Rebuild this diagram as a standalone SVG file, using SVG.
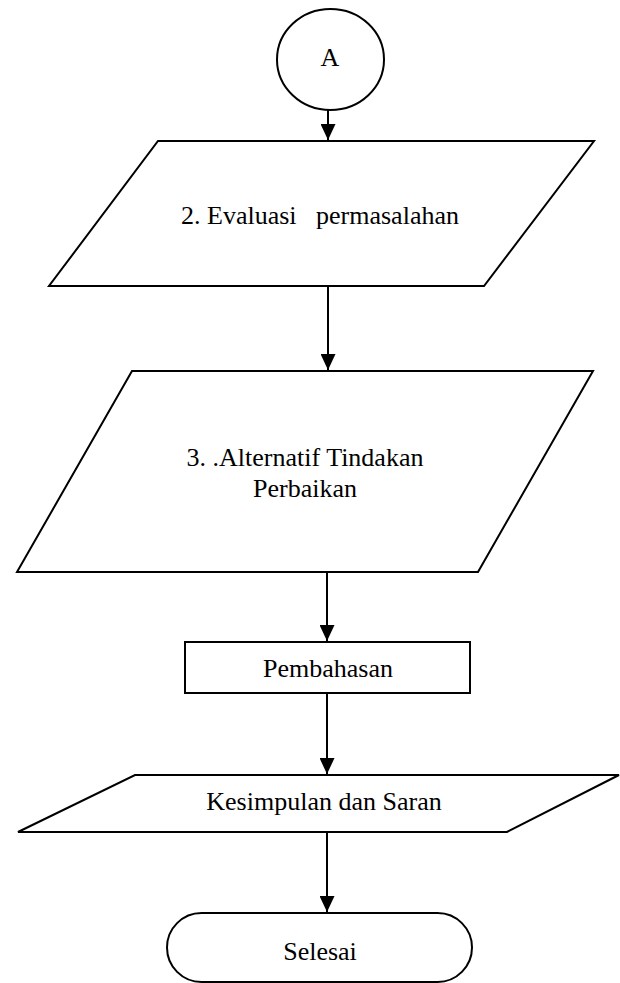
<svg xmlns="http://www.w3.org/2000/svg" width="620" height="983" viewBox="0 0 620 983">
<style>
.shape{fill:#fff;stroke:#000;stroke-width:2;stroke-linejoin:miter}
.lbl{font-family:"Liberation Serif","Times New Roman",serif;font-size:26px;fill:#000;text-anchor:middle}
.conn{stroke:#000;stroke-width:2;fill:none}
</style>
<defs>
<marker id="arr" viewBox="0 0 16 15" refX="16" refY="7.5" markerWidth="16" markerHeight="15" markerUnits="userSpaceOnUse" orient="auto">
<path d="M0,0 L16,7.5 L0,15 Z" fill="#000"/>
</marker>
</defs>
<rect width="620" height="983" fill="#fff"/>
<g id="connectors">
<line class="conn" x1="328" y1="110" x2="328" y2="140" marker-end="url(#arr)"/>
<line class="conn" x1="328" y1="287" x2="328" y2="370" marker-end="url(#arr)"/>
<line class="conn" x1="327" y1="573" x2="327" y2="641" marker-end="url(#arr)"/>
<line class="conn" x1="327" y1="694" x2="327" y2="774" marker-end="url(#arr)"/>
<line class="conn" x1="327" y1="833" x2="327" y2="912" marker-end="url(#arr)"/>
</g>
<g id="nodeA">
<ellipse class="shape" cx="330.5" cy="59.5" rx="53.5" ry="50.5"/>
<text class="lbl" x="330" y="66">A</text>
</g>
<g id="evaluasi">
<polygon class="shape" points="158,141 594,141 484,286 49,286"/>
<text class="lbl" x="320" y="224" xml:space="preserve">2. Evaluasi   permasalahan</text>
</g>
<g id="alternatif">
<polygon class="shape" points="132,371 593,371 478,572 17,572"/>
<text class="lbl" x="305" y="466">3. .Alternatif Tindakan</text>
<text class="lbl" x="305" y="497">Perbaikan</text>
</g>
<g id="pembahasan">
<rect class="shape" x="185" y="642" width="285" height="51"/>
<text class="lbl" x="328" y="677">Pembahasan</text>
</g>
<g id="kesimpulan">
<polygon class="shape" points="135,775 619,775 507,832 18,832"/>
<text class="lbl" x="324" y="810">Kesimpulan dan Saran</text>
</g>
<g id="selesai">
<rect class="shape" x="167" y="913" width="305" height="69" rx="34.5" ry="34.5"/>
<text class="lbl" x="320" y="960">Selesai</text>
</g>
</svg>
